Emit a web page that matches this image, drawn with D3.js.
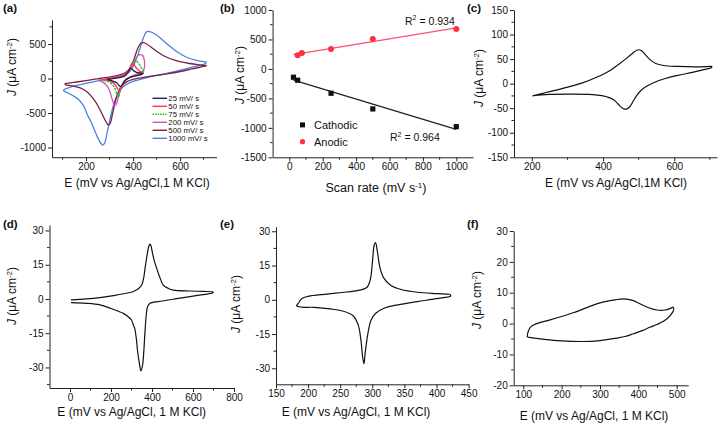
<!DOCTYPE html>
<html><head><meta charset="utf-8">
<script src="https://cdn.jsdelivr.net/npm/d3@7"></script>
<style>body{margin:0;background:#fff}svg{display:block;font-family:"Liberation Sans",Arial,sans-serif}</style>
</head><body><script>
// ---------- DATA ----------
// (a) CVs at different scan rates: [E (mV), J (uA cm-2)]
const rateLabels = ["25 mV/ s","50 mV/ s","75 mV/ s","200 mV/ s","500 mV/ s","1000 mV/ s"];
const rateColors = ["#1f1f55","#ff3355","#22c02a","#d055b0","#7a2040","#4f7fe6"];
const cv25 = [[290,-12],[320,2],[350,20],[368,45],[378,85],[384,130],[388,148],[394,142],[402,115],[415,90],[430,78],[440,72],[438,62],[420,45],[400,30],[382,8],[370,-15],[360,-55],[352,-100],[346,-118],[340,-100],[330,-62],[315,-38],[300,-22],[290,-12]];
const cv50 = [[270,-15],[305,3],[340,25],[365,55],[380,110],[390,190],[396,222],[403,210],[412,160],[425,115],[438,92],[444,85],[438,65],[420,48],[400,33],[382,8],[368,-25],[356,-90],[347,-160],[341,-180],[334,-150],[322,-80],[305,-40],[285,-22],[270,-15]];
const cv75 = [[262,-22],[300,-2],[340,25],[368,58],[385,120],[396,210],[403,262],[409,270],[416,250],[428,200],[438,140],[446,95],[442,72],[425,56],[400,36],[380,10],[366,-25],[354,-95],[344,-205],[338,-265],[331,-225],[318,-115],[300,-55],[280,-32],[262,-22]];
const cv200 = [[250,-25],[285,-5],[325,20],[362,52],[385,100],[400,185],[412,290],[422,338],[432,348],[442,330],[447,280],[449,200],[447,140],[438,100],[420,70],[398,40],[378,8],[362,-38],[348,-125],[336,-290],[327,-380],[321,-385],[311,-300],[298,-160],[282,-78],[265,-40],[250,-25]];
const cv500 = [[110,-75],[160,-50],[220,-18],[280,12],[330,42],[365,80],[388,150],[405,290],[420,440],[433,512],[443,520],[458,500],[490,420],[530,330],[580,262],[640,218],[700,192],[712,186],[700,175],[650,140],[600,102],[550,72],[500,46],[450,20],[405,-8],[372,-48],[348,-120],[328,-290],[312,-520],[302,-655],[295,-674],[283,-615],[262,-470],[237,-320],[205,-195],[175,-135],[140,-105],[112,-90],[110,-75]];
const cv1000 = [[105,-160],[150,-108],[200,-70],[250,-35],[300,-3],[340,28],[372,70],[392,130],[410,250],[428,420],[443,580],[455,670],[465,685],[480,670],[500,630],[525,560],[555,470],[590,380],[630,305],[670,262],[705,242],[712,235],[700,205],[660,172],[620,135],[580,102],[540,72],[500,45],[460,15],[420,-22],[385,-62],[360,-110],[340,-190],[322,-330],[305,-540],[290,-780],[279,-935],[272,-965],[264,-945],[250,-860],[235,-740],[220,-620],[205,-520],[190,-400],[170,-310],[145,-250],[120,-205],[105,-180],[105,-160]];
const cvA = [cv1000, cv500, cv200, cv75, cv50, cv25];

// (b) peak current vs scan rate
const cathRate = [25, 50, 250, 500, 1000];
const cathJ = [-141, -192, -413, -679, -980];
const anodRate = [50, 75, 250, 500, 1000];
const anodJ = [233, 272, 340, 509, 679];
const r2Anodic = "0.934", r2Cathodic = "0.964";

// (c)-(f) single CVs
const cvC = [[202,-25],[240,-18],[290,-9],[340,1],[382,13],[420,27],[447,41],[470,54],[485,63],[495,68],[502,69],[510,66],[520,58],[532,49],[548,41],[570,37],[610,35],[660,34],[700,35],[705,35],[705,33],[680,28],[651,23],[610,17],[577,11],[545,3],[521,-6],[505,-15],[493,-26],[483,-38],[475,-47],[468,-51],[461,-52],[453,-49],[443,-42],[430,-33],[415,-28],[400,-25],[360,-22],[300,-21.5],[250,-22],[210,-24],[202,-25]];
const cvD = [[5,-0.4],[80,0],[146,0.6],[220,1.6],[280,2.6],[309,3.3],[335,4.6],[350,6.1],[360,9.5],[366,13.4],[373,17.5],[379,20.7],[385,23.3],[390,24],[395,23.3],[401,20.7],[412,16.5],[423,13.4],[438,9.5],[455,6.1],[480,4.6],[504,3.9],[585,3.5],[650,3.3],[695,3.1],[698,2.9],[695,2.6],[640,1.8],[585,1],[512,0],[450,-0.9],[390,-1.9],[378,-3.5],[372,-7],[368,-11.4],[364,-17],[360,-23],[354,-29],[346,-31.5],[339,-28.5],[330,-23],[323,-17],[316,-13],[309,-11.4],[300,-9.2],[280,-7.5],[260,-6.3],[200,-4.2],[146,-2.6],[80,-1.9],[5,-1.6]];
const cvE = [[185,-1.5],[190,0.5],[200,1.5],[230,2.5],[260,3.4],[280,4.2],[292,5.5],[297,9],[300,16],[303,24],[305,25],[308,21],[312,14],[318,9.5],[328,6.5],[345,4.5],[370,3.3],[400,2.7],[420,2.4],[422,2.0],[422,1.6],[400,0.5],[370,-0.8],[340,-2.2],[320,-3.5],[305,-6],[298,-9],[293,-15],[289,-23],[287,-28],[285,-25],[282,-17],[278,-11],[270,-7],[255,-5],[235,-4],[210,-3.3],[190,-3.2],[182,-2.6],[185,-1.5]];
const cvF = [[110,-4.4],[113,-2.5],[120,-1],[135,0],[170,1.2],[230,3.5],[300,6.7],[340,7.7],[361,8],[385,7.5],[404,6.4],[425,5.2],[448,4.4],[470,4.4],[485,5.0],[491,5.3],[492,4.5],[490,3.8],[474,1.5],[450,-0.2],[430,-1.2],[410,-2.3],[387,-3.3],[365,-4.2],[344,-4.7],[300,-5.5],[256,-5.8],[200,-5.6],[170,-5.3],[140,-4.9],[111,-4.4]];

// ---------- DRAW ----------
const svg = d3.select("body").append("svg").attr("width",721).attr("height",424);
const FONT = "'Liberation Sans', Arial, sans-serif";

function range(a,b,s){const r=[];for(let v=a;v<=b+1e-9;v+=s)r.push(+v.toFixed(3));return r;}

function panel(c){
  const x = d3.scaleLinear().domain(c.xd).range(c.xr);
  const y = d3.scaleLinear().domain(c.yd).range(c.yr);
  const g = svg.append("g").attr("font-family",FONT);
  const xa = g.append("g").attr("transform",`translate(0,${c.yr[0]})`)
    .call(d3.axisBottom(x).tickValues(c.xt).tickSize(4).tickSizeOuter(0).tickPadding(2).tickFormat(d=>String(d)));
  const ya = g.append("g").attr("transform",`translate(${c.xr[0]},0)`)
    .call(d3.axisLeft(y).tickValues(c.yt).tickSize(4).tickSizeOuter(0).tickPadding(2).tickFormat(d=>String(d)));
  [xa,ya].forEach(a=>{a.selectAll("text").attr("font-size",10).attr("fill","#111").attr("font-family",FONT);
    a.selectAll("line,path").attr("stroke","#222").attr("stroke-width",1);});
  xa.selectAll(".minor").data(c.xm).enter().append("line").attr("x1",d=>x(d)).attr("x2",d=>x(d)).attr("y1",0).attr("y2",2.5).attr("stroke","#222");
  ya.selectAll(".minor").data(c.ym).enter().append("line").attr("y1",d=>y(d)).attr("y2",d=>y(d)).attr("x1",0).attr("x2",-2.5).attr("stroke","#222");
  return {x,y,g};
}

function yLabel(cx,cy){
  const t = svg.append("text").attr("transform",`translate(${cx},${cy}) rotate(-90)`)
    .attr("text-anchor","middle").attr("dy","0.35em").attr("font-size",12).attr("font-family",FONT).attr("fill","#111");
  t.append("tspan").attr("font-style","italic").text("J");
  t.append("tspan").text(" (μA cm");
  t.append("tspan").attr("font-size",8).attr("dy",-4).text("-2");
  t.append("tspan").attr("dy",4).text(")");
}
function xLabel(cx,by,txt){
  svg.append("text").attr("x",cx).attr("y",by).attr("text-anchor","middle").attr("font-size",12)
    .attr("font-family",FONT).attr("fill","#111").text(txt);
}
function tag(x,y,t){
  svg.append("text").attr("x",x).attr("y",y).attr("font-size",11.5).attr("font-weight","bold")
    .attr("font-family",FONT).attr("fill","#111").text(t);
}
function cvPath(p, data, color, w, dash){
  const line = d3.line().x(d=>p.x(d[0])).y(d=>p.y(d[1])).curve(d3.curveCatmullRom.alpha(0.5));
  const path = p.g.append("path").datum(data).attr("d",line).attr("fill","none")
    .attr("stroke",color).attr("stroke-width",w).attr("stroke-linejoin","round");
  if(dash) path.attr("stroke-dasharray",dash);
}

// (a)
const pA = panel({xd:[55,755],xr:[52,216.5],yd:[-1140,850],yr:[157.2,19.9],
  xt:[200,400,600],xm:[100,300,500,700],yt:[-1000,-500,0,500],ym:[-750,-250,250,750]});
const colA = [rateColors[5],rateColors[4],rateColors[3],rateColors[2],rateColors[1],rateColors[0]];
cvA.forEach((d,i)=>cvPath(pA,d,colA[i],1.3,i===3?"2.5,1":null));
const leg = svg.append("g").attr("font-family",FONT);
rateLabels.forEach((l,i)=>{
  const yy = 98.3 + i*8;
  leg.append("line").attr("x1",152.5).attr("x2",167).attr("y1",yy).attr("y2",yy)
    .attr("stroke",rateColors[i]).attr("stroke-width",1.4).attr("stroke-dasharray",i===2?"1.5,1":null);
  leg.append("text").attr("x",168.3).attr("y",yy).attr("dy","0.35em").attr("font-size",7.8).attr("fill","#111").text(l);
});
yLabel(12,67); xLabel(137,187,"E (mV vs Ag/AgCl,1 M KCl)"); tag(3,12,"(a)");

// (b)
const pB = panel({xd:[-100,1100],xr:[272.6,473],yd:[-1500,1000],yr:[157.3,10],
  xt:range(0,1000,200),xm:range(100,900,200),yt:range(-1500,1000,500),ym:range(-1250,750,500)});
function fit(xs,ys){const mx=d3.mean(xs),my=d3.mean(ys);
  let sxy=0,sxx=0;xs.forEach((v,i)=>{sxy+=(v-mx)*(ys[i]-my);sxx+=(v-mx)*(v-mx);});
  const b=sxy/sxx;return v=>my+b*(v-mx);}
const fA = fit(anodRate,anodJ), fC = fit(cathRate,cathJ);
pB.g.append("line").attr("x1",pB.x(25)).attr("x2",pB.x(1000)).attr("y1",pB.y(fA(25))).attr("y2",pB.y(fA(1000)))
  .attr("stroke","#ff5070").attr("stroke-width",1.3);
pB.g.append("line").attr("x1",pB.x(25)).attr("x2",pB.x(1000)).attr("y1",pB.y(fC(25))).attr("y2",pB.y(fC(1000)))
  .attr("stroke","#222").attr("stroke-width",1.3);
pB.g.selectAll(".sq").data(cathRate).enter().append("rect").attr("x",(d)=>pB.x(d)-2.6).attr("y",(d,i)=>pB.y(cathJ[i])-2.6)
  .attr("width",5.2).attr("height",5.2).attr("fill","#111");
pB.g.selectAll(".ci").data(anodRate).enter().append("circle").attr("cx",d=>pB.x(d)).attr("cy",(d,i)=>pB.y(anodJ[i]))
  .attr("r",3).attr("fill","#ff3040");
pB.g.append("rect").attr("x",300).attr("y",122.4).attr("width",5).attr("height",5).attr("fill","#111");
pB.g.append("circle").attr("cx",302.5).attr("cy",141.7).attr("r",2.6).attr("fill","#ff3040");
pB.g.append("text").attr("x",314).attr("y",125).attr("dy","0.35em").attr("font-size",11).attr("fill","#111").text("Cathodic");
pB.g.append("text").attr("x",314).attr("y",141.7).attr("dy","0.35em").attr("font-size",11).attr("fill","#111").text("Anodic");
function r2(x,y,v){const t=pB.g.append("text").attr("x",x).attr("y",y).attr("font-size",10.5).attr("fill","#111");
  t.append("tspan").text("R");t.append("tspan").attr("font-size",7).attr("dy",-4.5).text("2");
  t.append("tspan").attr("dy",4.5).text(" = "+v);}
r2(405,24.5,r2Anodic); r2(390,141,r2Cathodic);
yLabel(240,75);
{const t=svg.append("text").attr("x",376).attr("y",192).attr("text-anchor","middle").attr("font-size",12.5).attr("font-family",FONT).attr("fill","#111");
 t.append("tspan").text("Scan rate (mV s");t.append("tspan").attr("font-size",8).attr("dy",-4.5).text("-1");t.append("tspan").attr("dy",4.5).text(")");}
tag(220,12,"(b)");

// (c)
const pC = panel({xd:[150,720],xr:[514,717],yd:[-150,150],yr:[157.3,10],
  xt:[200,400,600],xm:[300,500,700],yt:range(-150,150,50),ym:range(-125,125,50)});
cvPath(pC,cvC,"#111",1.2);
yLabel(479,78); xLabel(616,187,"E (mV vs Ag/AgCl,1M KCl)"); tag(467,12,"(c)");

// (d)
const pD = panel({xd:[-100,800],xr:[49.5,234],yd:[-39,32.4],yr:[388,225],
  xt:[0,200,400,600,800],xm:[100,300,500,700],yt:[-30,-15,0,15,30],ym:[-37.5,-22.5,-7.5,7.5,22.5]});
cvPath(pD,cvD,"#111",1.2);
yLabel(12,296); xLabel(131.7,416,"E (mV vs Ag/AgCl, 1 M KCl)"); tag(3,228,"(d)");

// (e)
const pE = panel({xd:[150,450],xr:[276,468.6],yd:[-37,32],yr:[384.3,226.7],
  xt:range(150,450,50),xm:range(175,425,50),yt:[-30,-15,0,15,30],ym:[-22.5,-7.5,7.5,22.5]});
cvPath(pE,cvE,"#111",1.2);
yLabel(236,304); xLabel(356,415.5,"E (mV vs Ag/AgCl, 1 M KCl)"); tag(220,228,"(e)");

// (f)
const pF = panel({xd:[75,530],xr:[513.7,688.2],yd:[-20,30],yr:[385.3,231],
  xt:range(100,500,100),xm:range(150,450,100),yt:range(-20,30,10),ym:range(-15,25,10)});
cvPath(pF,cvF,"#111",1.2);
yLabel(477,300); xLabel(594,420,"E (mV vs Ag/AgCl, 1 M KCl)"); tag(467,228,"(f)");
</script></body></html>
